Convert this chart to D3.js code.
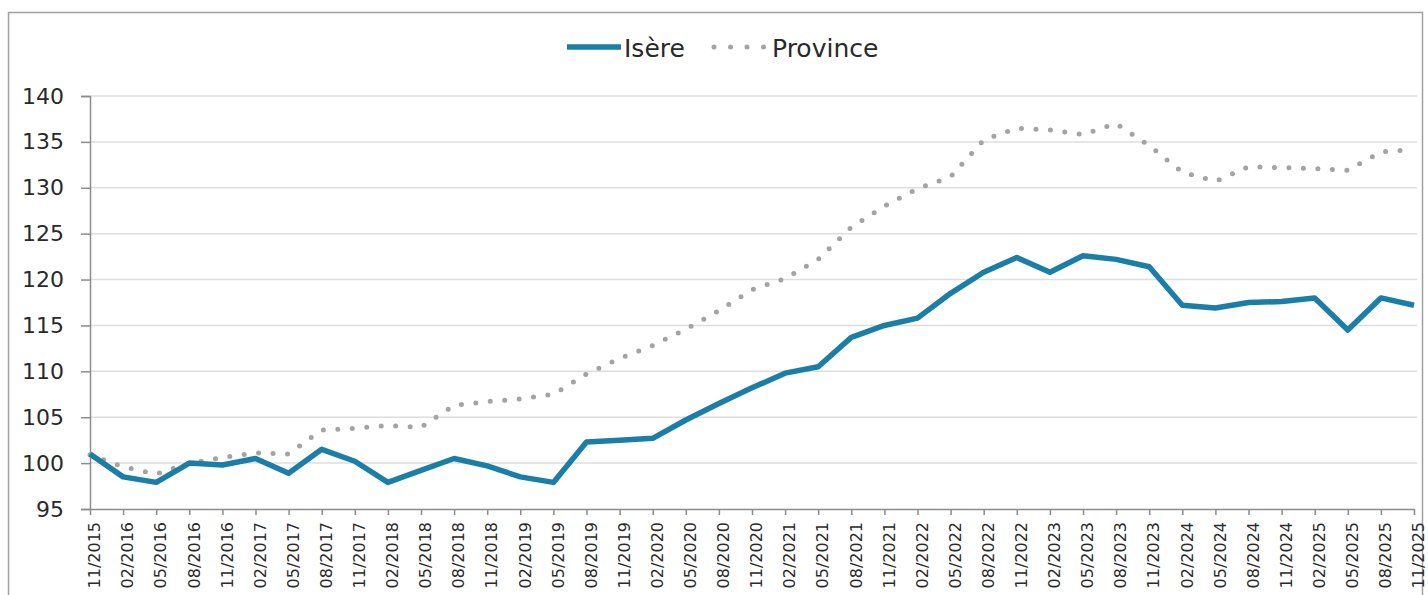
<!DOCTYPE html>
<meta charset="utf-8">
<style>
  body { margin: 0; background: #fff; }
  svg { display: block; font-family: "DejaVu Sans", Verdana, sans-serif; }
</style>
<body>
  <div id="chart"></div>

  <script src="https://d3js.org/d3.v7.min.js"></script>
  <script>
  // ——— Data (quarterly index, base ~100 in 11/2015) ———
  const periods = [
    "11/2015", "02/2016", "05/2016", "08/2016", "11/2016", "02/2017", "05/2017", "08/2017",
    "11/2017", "02/2018", "05/2018", "08/2018", "11/2018", "02/2019", "05/2019", "08/2019",
    "11/2019", "02/2020", "05/2020", "08/2020", "11/2020", "02/2021", "05/2021", "08/2021",
    "11/2021", "02/2022", "05/2022", "08/2022", "11/2022", "02/2023", "05/2023", "08/2023",
    "11/2023", "02/2024", "05/2024", "08/2024", "11/2024", "02/2025", "05/2025", "08/2025",
    "11/2025"
  ];

  const isere = [
    101.0, 98.5, 97.9, 100.0, 99.8, 100.5, 98.9, 101.5,
    100.2, 97.9, 99.2, 100.5, 99.7, 98.5, 97.9, 102.3,
    102.5, 102.7, 104.7, 106.5, 108.2, 109.8, 110.5, 113.7,
    115.0, 115.8, 118.5, 120.8, 122.4, 120.8, 122.6, 122.2,
    121.4, 117.2, 116.9, 117.5, 117.6, 118.0, 114.5, 118.0,
    117.2
  ];

  const province = [
    100.9, 99.6, 98.8, 100.0, 100.6, 101.1, 101.0, 103.6,
    103.8, 104.1, 103.9, 106.3, 106.7, 107.0, 107.5, 109.7,
    111.4, 112.8, 114.6, 116.6, 118.9, 120.1, 122.2, 125.7,
    128.0, 129.9, 131.2, 135.2, 136.5, 136.3, 135.8, 137.0,
    134.6, 131.7, 130.7, 132.3, 132.2, 132.1, 131.9, 133.9,
    134.2
  ];

  const yTicks = [95, 100, 105, 110, 115, 120, 125, 130, 135, 140];

  const seriesNames = ["Isère", "Province"];
  const colors = { isere: "#1b7ea6", province: "#a3a3a3" };

  // ——— Setup ———
  const W = 1428, H = 595;
  const plot = { left: 90, right: 1414, top: 96, bottom: 509 };

  const svg = d3.select("#chart").append("svg")
      .attr("width", W)
      .attr("height", H);

  // outer chart frame (bottom runs off the picture)
  svg.append("rect")
      .attr("x", 8.5).attr("y", 12.5)
      .attr("width", 1414).attr("height", 600)
      .attr("fill", "none")
      .attr("stroke", "#a0a0a0")
      .attr("stroke-width", 1.5);

  const x = d3.scalePoint()
      .domain(periods)
      .range([plot.left, plot.right]);

  const y = d3.scaleLinear()
      .domain([95, 140])
      .range([plot.bottom, plot.top]);

  // grid lines
  svg.append("g")
    .selectAll("line")
    .data(yTicks.filter(d => d !== 95))
    .join("line")
      .attr("x1", plot.left).attr("x2", 1417)
      .attr("y1", d => y(d)).attr("y2", d => y(d))
      .attr("stroke", "#dedede")
      .attr("stroke-width", 1.5);

  // y axis
  svg.append("g")
      .attr("transform", `translate(${plot.left},0)`)
      .call(d3.axisLeft(y).tickValues(yTicks).tickSize(9).tickPadding(17))
      .call(g => g.select(".domain").attr("stroke", "#8c8c8c").attr("stroke-width", 1.5))
      .call(g => g.selectAll(".tick line").attr("stroke", "#8c8c8c").attr("stroke-width", 1.5))
      .call(g => g.selectAll(".tick text")
        .attr("font-size", 22)
        .attr("font-family", "DejaVu Sans")
        .attr("fill", "#2a2a2a"));

  // x axis
  const xAxis = svg.append("g")
      .attr("transform", `translate(0,${plot.bottom})`)
      .call(d3.axisBottom(x).tickSize(6).tickSizeOuter(0))
      .call(g => g.select(".domain").attr("stroke", "#8c8c8c").attr("stroke-width", 1.5))
      .call(g => g.selectAll(".tick line").attr("stroke", "#8c8c8c").attr("stroke-width", 1.5));

  xAxis.selectAll(".tick text")
      .attr("font-size", 16)
      .attr("font-family", "DejaVu Sans")
      .attr("fill", "#2a2a2a")
      .attr("text-anchor", "end")
      .attr("transform", "translate(4,13) rotate(-90)")
      .attr("x", 0)
      .attr("y", 0)
      .attr("dy", "0.36em");

  // ——— Lines ———
  const line = d3.line()
      .x((d, i) => x(periods[i]))
      .y(d => y(d));

  svg.append("path")
      .datum(province)
      .attr("d", line)
      .attr("fill", "none")
      .attr("stroke", colors.province)
      .attr("stroke-width", 5)
      .attr("stroke-linecap", "round")
      .attr("stroke-dasharray", "0 14.5");

  svg.append("path")
      .datum(isere)
      .attr("d", line)
      .attr("fill", "none")
      .attr("stroke", colors.isere)
      .attr("stroke-width", 5.5)
      .attr("stroke-linejoin", "round");

  // ——— Legend ———
  const legend = svg.append("g");

  legend.append("line")
      .attr("x1", 567).attr("x2", 621)
      .attr("y1", 47).attr("y2", 47)
      .attr("stroke", colors.isere)
      .attr("stroke-width", 5.5);

  legend.append("text")
      .attr("x", 624).attr("y", 57)
      .attr("font-size", 25)
      .attr("fill", "#2a2a2a")
      .text(seriesNames[0]);

  legend.append("line")
      .attr("x1", 714).attr("x2", 764)
      .attr("y1", 47).attr("y2", 47)
      .attr("stroke", colors.province)
      .attr("stroke-width", 5)
      .attr("stroke-linecap", "round")
      .attr("stroke-dasharray", "0 16.5");

  legend.append("text")
      .attr("x", 772).attr("y", 57)
      .attr("font-size", 25)
      .attr("fill", "#2a2a2a")
      .text(seriesNames[1]);
  </script>
</body>
